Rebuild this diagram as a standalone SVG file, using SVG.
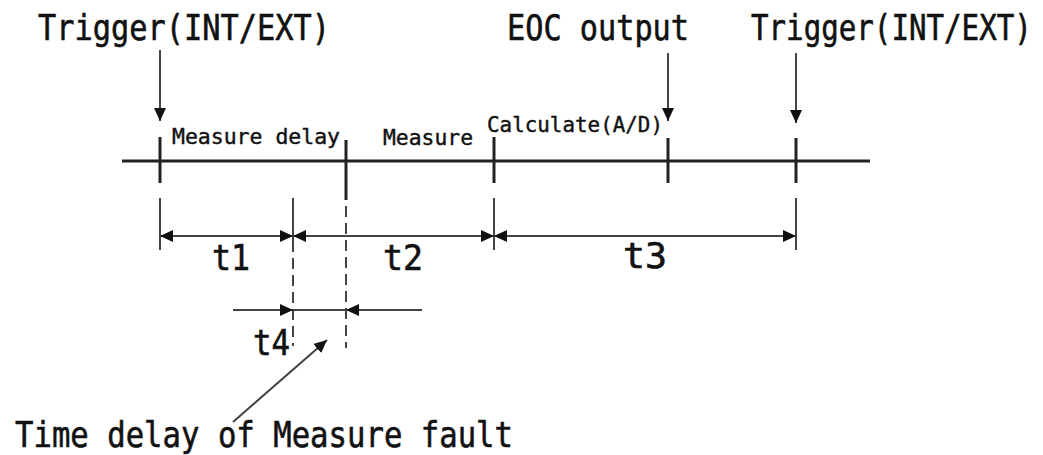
<svg xmlns="http://www.w3.org/2000/svg" width="1043" height="455" viewBox="0 0 1043 455">
<style>
text{font-family:"DejaVu Sans Mono","Liberation Mono",monospace;fill:#111;stroke:#111;stroke-width:0.6}
.big{font-size:36px}
.small{font-size:21px;stroke-width:0.4}
.main{stroke:#222;stroke-width:3;fill:none}
.tick{stroke:#222;stroke-width:3;fill:none}
.thin{stroke:#444;stroke-width:2;fill:none}
.dash{stroke:#444;stroke-width:2;fill:none;stroke-dasharray:11,6}
</style>
<defs>
<marker id="ah" markerUnits="userSpaceOnUse" markerWidth="14" markerHeight="12" refX="13" refY="6" orient="auto-start-reverse">
<path d="M0,0 L13,6 L0,12 z" fill="#111"/>
</marker>
</defs>
<rect width="1043" height="455" fill="#fff"/>
<g id="title-trigger1"><text class="big" x="38" y="40" textLength="292" lengthAdjust="spacingAndGlyphs">Trigger(INT/EXT)</text></g>
<g id="title-eoc"><text class="big" x="507" y="40" textLength="182" lengthAdjust="spacingAndGlyphs">EOC output</text></g>
<g id="title-trigger2"><text class="big" transform="translate(751,40) scale(0.81,1)" x="0" y="0">Trigger(INT/EXT)</text></g>
<g id="label-measure-delay"><text class="small" x="172" y="144" textLength="168" lengthAdjust="spacingAndGlyphs">Measure delay</text></g>
<g id="label-measure"><text class="small" x="383" y="145" textLength="90" lengthAdjust="spacingAndGlyphs">Measure</text></g>
<g id="label-calculate"><text class="small" x="487" y="132" textLength="176" lengthAdjust="spacingAndGlyphs">Calculate(A/D)</text></g>
<g id="label-t1"><text class="big" x="212" y="270" textLength="38" lengthAdjust="spacingAndGlyphs">t1</text></g>
<g id="label-t2"><text class="big" x="383" y="270" textLength="40" lengthAdjust="spacingAndGlyphs">t2</text></g>
<g id="label-t3"><text class="big" x="623" y="268" textLength="44" lengthAdjust="spacingAndGlyphs">t3</text></g>
<g id="label-t4"><text class="big" x="253" y="355" textLength="37" lengthAdjust="spacingAndGlyphs">t4</text></g>
<g id="label-fault"><text class="big" x="15" y="447" textLength="498" lengthAdjust="spacingAndGlyphs">Time delay of Measure fault</text></g>
<g id="timeline">
<path class="main" d="M122,161 L870,161"/>
<path class="tick" d="M160,137 V183 M346,140 V200 M494,137 V183 M668,138 V183 M796,138 V183"/>
</g>
<g id="connectors">
<path class="thin" d="M160,50 V121" marker-end="url(#ah)"/>
<path class="thin" d="M668,53 V121" marker-end="url(#ah)"/>
<path class="thin" d="M796,53 V123" marker-end="url(#ah)"/>
<path class="thin" d="M160,198 V250 M293,198 V252 M494,198 V250 M796,198 V250"/>
<path class="dash" d="M293,258 V346"/>
<path class="dash" d="M346,206 V348"/>
<path class="thin" d="M160,236 L293,236" marker-start="url(#ah)" marker-end="url(#ah)"/>
<path class="thin" d="M293,236 L494,236" marker-start="url(#ah)" marker-end="url(#ah)"/>
<path class="thin" d="M494,236 L796,236" marker-start="url(#ah)" marker-end="url(#ah)"/>
<path class="thin" d="M233,310 L293,310" marker-end="url(#ah)"/>
<path class="thin" d="M293,310 L346,310"/>
<path class="thin" d="M422,310 L346,310" marker-end="url(#ah)"/>
<path class="thin" d="M233,422 L327,340" marker-end="url(#ah)"/>
</g>
</svg>
